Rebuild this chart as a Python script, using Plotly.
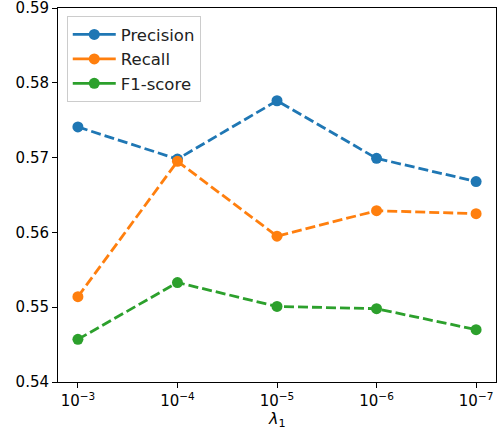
import plotly.graph_objects as go

categories = ["10<sup>−3</sup>", "10<sup>−4</sup>", "10<sup>−5</sup>", "10<sup>−6</sup>", "10<sup>−7</sup>"]
precision = [0.5741, 0.5698, 0.5776, 0.5699, 0.5668]
recall = [0.5514, 0.5695, 0.5595, 0.5629, 0.5625]
f1 = [0.5457, 0.5533, 0.5501, 0.5498, 0.5470]
yticks = [0.54, 0.55, 0.56, 0.57, 0.58, 0.59]

series = [("Precision", precision, "#1f77b4"),
          ("Recall", recall, "#ff7f0e"),
          ("F1-score", f1, "#2ca02c")]

xs = list(range(len(categories)))
fig = go.Figure()
for name, vals, col in series:
    fig.add_trace(go.Scatter(
        x=xs, y=vals, name=name, mode="lines+markers", showlegend=False,
        line=dict(color=col, width=2.8, dash="10px,4px"),
        marker=dict(color=col, size=11),
    ))
# legend entries (solid symbol as in the reference)
for name, vals, col in series:
    fig.add_trace(go.Scatter(
        x=[None], y=[None], name=name, mode="lines+markers",
        line=dict(color=col, width=2.8),
        marker=dict(color=col, size=11),
    ))

FAM = "DejaVu Sans, sans-serif"
font = dict(family=FAM, size=14, color="black")
fig.update_layout(
    width=502, height=433,
    margin=dict(l=58, r=6, t=8, b=51),
    paper_bgcolor="white", plot_bgcolor="white",
    font=font,
    showlegend=True,
    legend=dict(x=0.02, y=0.978, xanchor="left", yanchor="top",
                bordercolor="#cccccc", borderwidth=1, bgcolor="rgba(255,255,255,0.8)",
                font=dict(family=FAM, size=16.5, color="#222"),
                itemwidth=43, tracegroupgap=0),
    xaxis=dict(range=[-0.2, 4.2], tickmode="array", tickvals=xs, ticktext=categories,
               tickfont=dict(family=FAM, size=15, color="black"),
               showgrid=False, zeroline=False, showline=True, linecolor="black", linewidth=1,
               mirror=True, ticks="outside", ticklen=5, tickcolor="black",
               ticklabeloverflow="allow", automargin=False),
    yaxis=dict(range=[yticks[0], yticks[-1] + 1e-6], tickmode="array",
               tickvals=yticks,
               ticktext=["%.2f" % v for v in yticks],
               tickfont=dict(family=FAM, size=15, color="black"),
               showgrid=False, zeroline=False, showline=True, linecolor="black", linewidth=1,
               mirror=True, ticks="outside", ticklen=5, tickcolor="black",
               ticklabeloverflow="allow", automargin=False),
    annotations=[dict(text="<i>λ</i><sub>1</sub>", xref="paper", yref="paper",
                      x=0.5, y=-0.099, xanchor="center", yanchor="middle", showarrow=False,
                      font=dict(family=FAM, size=16, color="black"))],
)
fig.write_html("out.html", config={"displayModeBar": False},
               post_script="document.body.style.margin='0';document.body.style.overflow='hidden';")
